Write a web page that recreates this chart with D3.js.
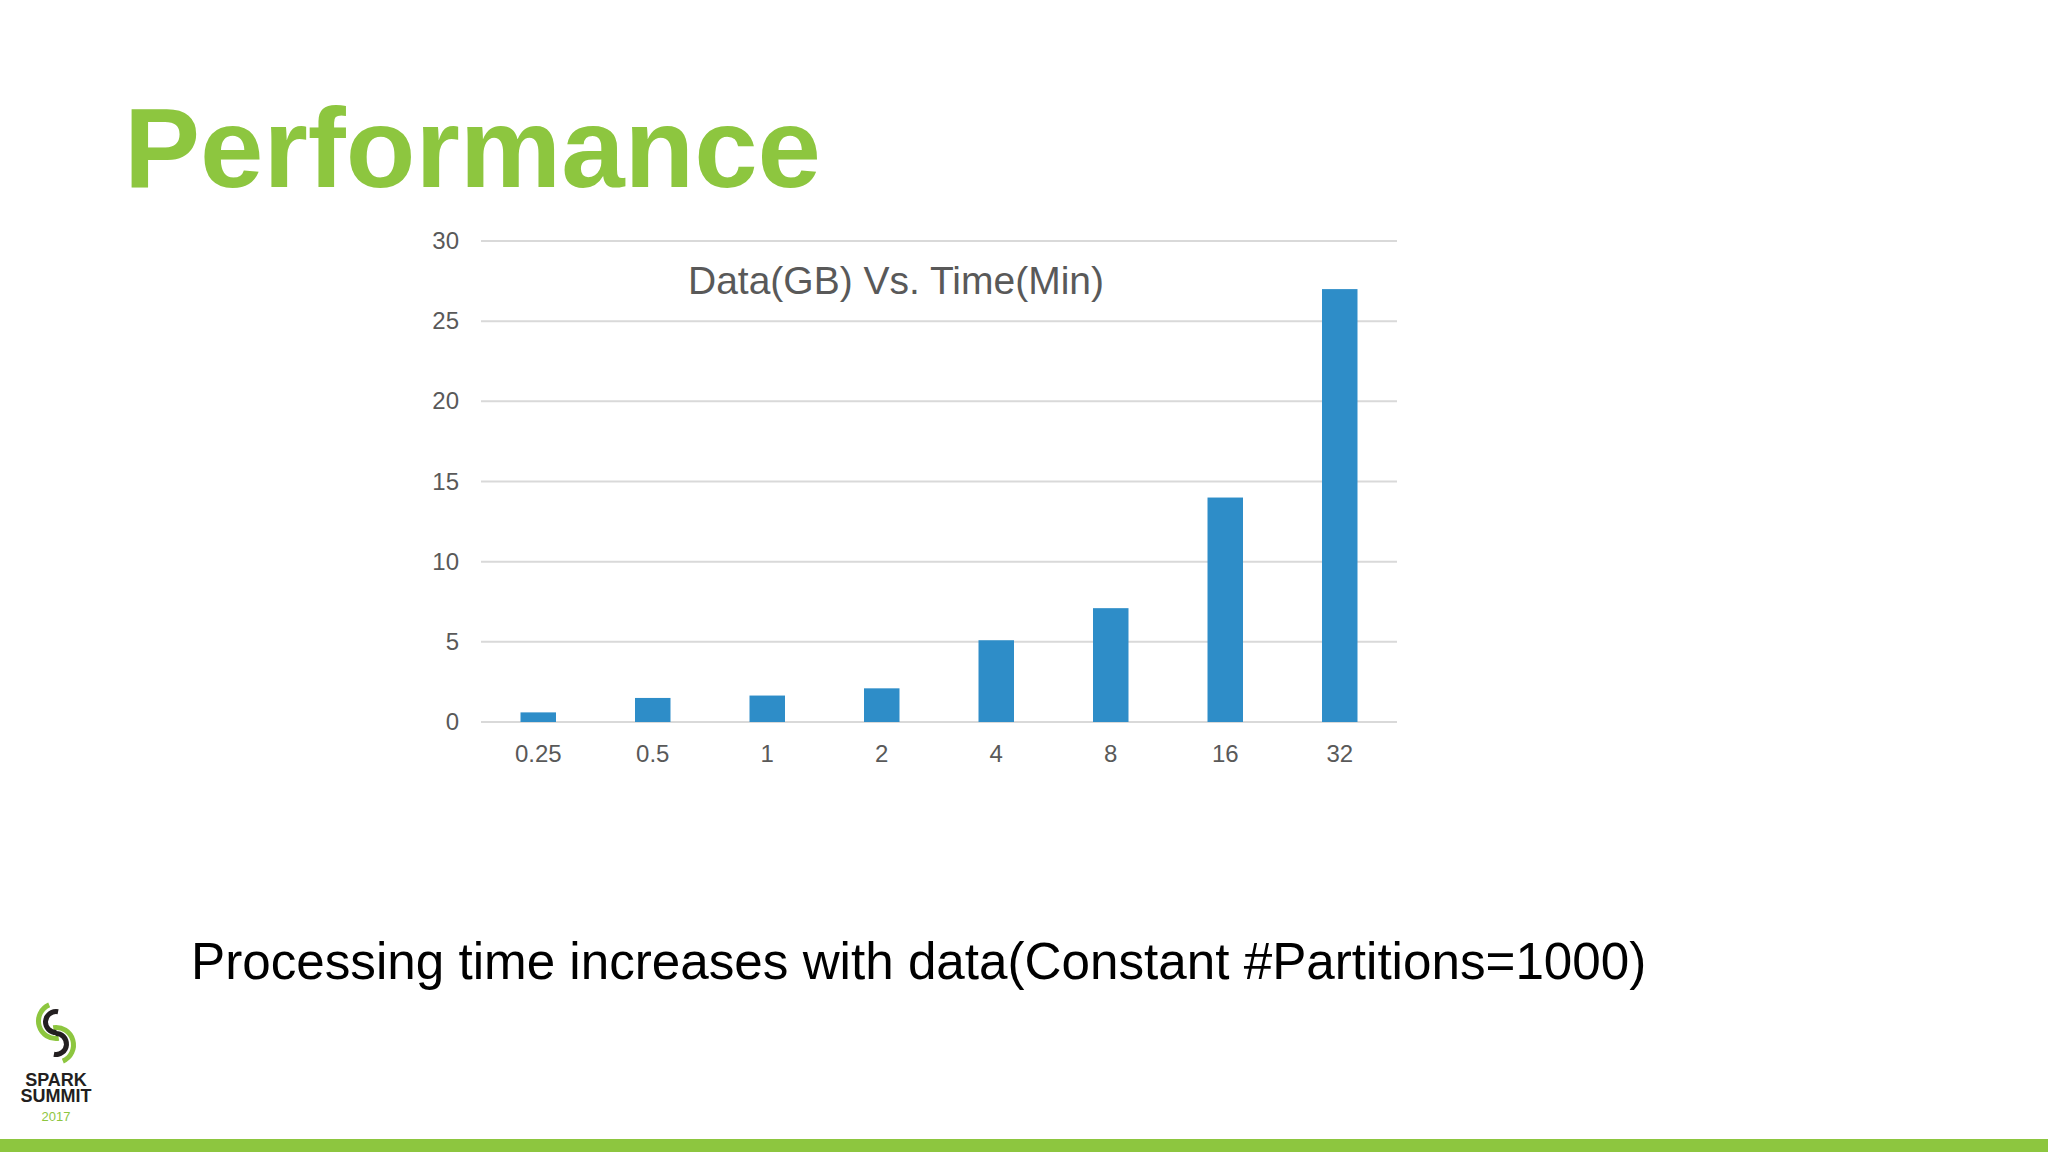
<!DOCTYPE html>
<html><head><meta charset="utf-8">
<script src="https://cdn.jsdelivr.net/npm/d3@7"></script>
<style>body{margin:0;background:#fff;}svg{display:block;font-family:"Liberation Sans",Arial,sans-serif;}</style>
</head><body>
<svg id="s" width="2048" height="1152"></svg>
<script>
var categories = ["0.25","0.5","1","2","4","8","16","32"];
var times = [0.6, 1.5, 1.65, 2.1, 5.1, 7.1, 14, 27];
var yTicks = [0,5,10,15,20,25,30];

var svg = d3.select("#s");
var green = "#8dc63f";

svg.append("text").attr("x",124).attr("y",187)
  .attr("font-size",114).attr("font-weight","bold").attr("fill",green)
  .text("Performance");

var pLeft = 481, pRight = 1397, pTop = 241, pBottom = 722;
var x = d3.scaleBand().domain(categories).range([pLeft,pRight]).paddingInner(0.69).paddingOuter(0.345);
var y = d3.scaleLinear().domain([0,30]).range([pBottom,pTop]);

var g = svg.append("g");
g.selectAll("line.grid").data(yTicks).enter().append("line")
  .attr("x1",pLeft).attr("x2",pRight)
  .attr("y1",d=>y(d)).attr("y2",d=>y(d))
  .attr("stroke","#d9d9d9").attr("stroke-width",2);

g.selectAll("text.yt").data(yTicks).enter().append("text")
  .attr("x",459).attr("y",d=>y(d)+8).attr("text-anchor","end")
  .attr("font-size",24).attr("fill","#595959").text(d=>d);

g.selectAll("rect").data(times).enter().append("rect")
  .attr("x",(d,i)=>x(categories[i]))
  .attr("width",x.bandwidth())
  .attr("y",d=>y(d)).attr("height",d=>pBottom-y(d))
  .attr("fill","#2e8dc8");

g.selectAll("text.xt").data(categories).enter().append("text")
  .attr("x",d=>x(d)+x.bandwidth()/2).attr("y",762).attr("text-anchor","middle")
  .attr("font-size",24).attr("fill","#595959").text(d=>d);

svg.append("text").attr("x",896).attr("y",294).attr("text-anchor","middle")
  .attr("font-size",39).attr("fill","#595959").text("Data(GB) Vs. Time(Min)");

svg.append("text").attr("x",191).attr("y",979)
  .attr("font-size",51.2).attr("fill","#000")
  .text("Processing time increases with data(Constant #Partitions=1000)");

// logo
var lg = svg.append("g").attr("transform","translate(56,1033)");
var arc = d3.arc();
lg.append("path").attr("d",arc({innerRadius:15,outerRadius:20,startAngle:-0.4,endAngle:-3.3})).attr("transform","translate(0,-12)").attr("fill",green);
lg.append("path").attr("d",arc({innerRadius:15,outerRadius:20,startAngle:-0.4,endAngle:-3.3})).attr("transform","translate(0,12) rotate(180)").attr("fill",green);
lg.append("path").attr("d",arc({innerRadius:8,outerRadius:13,startAngle:0.2,endAngle:-3.2})).attr("transform","translate(0,-11)").attr("fill","#231f20");
lg.append("path").attr("d",arc({innerRadius:8,outerRadius:13,startAngle:0.2,endAngle:-3.2})).attr("transform","translate(0,11) rotate(180)").attr("fill","#231f20");
svg.append("text").attr("x",56).attr("y",1086).attr("text-anchor","middle").attr("font-size",18).attr("font-weight","bold").attr("fill","#231f20").text("SPARK");
svg.append("text").attr("x",56).attr("y",1102).attr("text-anchor","middle").attr("font-size",18).attr("font-weight","bold").attr("fill","#231f20").text("SUMMIT");
svg.append("text").attr("x",56).attr("y",1121).attr("text-anchor","middle").attr("font-size",13).attr("fill",green).text("2017");

svg.append("rect").attr("x",0).attr("y",1139).attr("width",2048).attr("height",13).attr("fill",green);
</script>
</body></html>
